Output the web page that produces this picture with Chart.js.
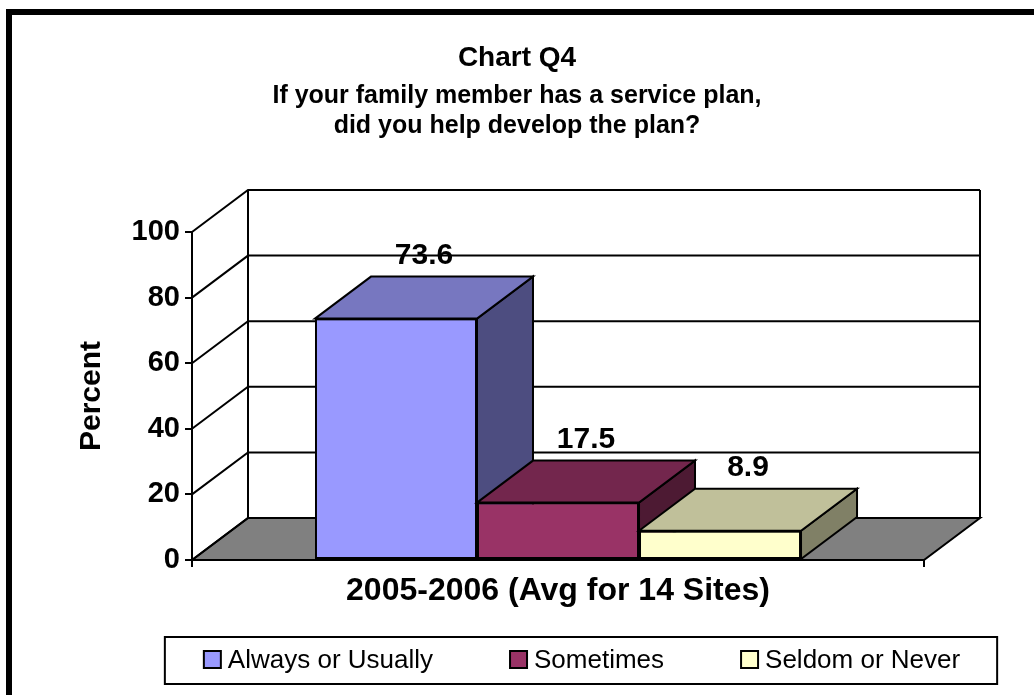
<!DOCTYPE html>
<html>
<head>
<meta charset="utf-8">
<title>Chart Q4</title>
<script src="https://cdn.jsdelivr.net/npm/chart.js@4.4.1/dist/chart.umd.min.js"></script>
<style>
  body { margin: 0; background: #fff; }
</style>
</head>
<body>
<canvas id="myChartQ4" width="1034" height="695"></canvas>
<script>
// data
var categories = ['2005-2006 (Avg for 14 Sites)'];
var seriesNames = ['Always or Usually', 'Sometimes', 'Seldom or Never'];
var alwaysUsually = [73.6];
var sometimes = [17.5];
var seldomNever = [8.9];
var yMin = 0, yMax = 100, yStep = 20;

// colours: front, top and side face of each series
var frontColors = ['#9999FF', '#993366', '#FFFFCC'];
var topColors = ['#7777C0', '#73264D', '#C0C09A'];
var sideColors = ['#4D4D80', '#4D1A33', '#808066'];

// depth of the fake 3d
var DX = 56, DY = 42;
var FONT = "'Liberation Sans', Arial, Helvetica, sans-serif";

Chart.defaults.color = '#000';
Chart.defaults.font.family = FONT;

function poly(ctx, pts, fill) {
    ctx.beginPath();
    ctx.moveTo(pts[0][0], pts[0][1]);
    for (var i = 1; i < pts.length; i++) ctx.lineTo(pts[i][0], pts[i][1]);
    ctx.closePath();
    ctx.fillStyle = fill;
    ctx.fill();
    ctx.stroke();
}

var depth3d = {
    id: 'depth3d',

    beforeDraw: function (chart) {
        var ctx = chart.ctx;
        ctx.save();
        ctx.fillStyle = '#fff';
        ctx.fillRect(0, 0, chart.width, chart.height);
        // frame (only left and top show)
        ctx.fillStyle = '#000';
        ctx.fillRect(6, 9, chart.width - 6, 6);
        ctx.fillRect(6, 9, 6, chart.height - 9);
        ctx.restore();
    },

    beforeDatasetsDraw: function (chart) {
        var ctx = chart.ctx, a = chart.chartArea, ys = chart.scales.y;
        ctx.save();
        ctx.lineWidth = 2;
        ctx.strokeStyle = '#000';
        ctx.lineJoin = 'miter';
        // floor
        poly(ctx, [[a.left, a.bottom], [a.left + DX, a.bottom - DY], [a.right + DX, a.bottom - DY], [a.right, a.bottom]], '#808080');
        // side wall + back wall with gridlines
        ctx.beginPath();
        ctx.moveTo(a.left + DX, a.bottom - DY);
        ctx.lineTo(a.left + DX, a.top - DY);
        ctx.moveTo(a.right + DX, a.bottom - DY);
        ctx.lineTo(a.right + DX, a.top - DY);
        ys.ticks.forEach(function (t) {
            var py = ys.getPixelForValue(t.value);
            ctx.moveTo(a.left, py);
            ctx.lineTo(a.left + DX, py - DY);
            ctx.lineTo(a.right + DX, py - DY);
        });
        ctx.stroke();
        ctx.restore();
    },

    afterDatasetsDraw: function (chart) {
        var ctx = chart.ctx;
        ctx.save();
        ctx.lineWidth = 2;
        ctx.strokeStyle = '#000';
        for (var i = 0; i < chart.data.datasets.length; i++) {
            var meta = chart.getDatasetMeta(i);
            meta.data.forEach(function (bar, j) {
                var p = bar.getProps(['x', 'y', 'base', 'width'], true);
                var l = p.x - p.width / 2, r = p.x + p.width / 2;
                poly(ctx, [[r, p.y], [r + DX, p.y - DY], [r + DX, p.base - DY], [r, p.base]], sideColors[i]);
                poly(ctx, [[l, p.y], [l + DX, p.y - DY], [r + DX, p.y - DY], [r, p.y]], topColors[i]);
                bar.draw(ctx);
                ctx.save();
                ctx.font = 'bold 30px ' + FONT;
                ctx.fillStyle = '#000';
                ctx.textAlign = 'center';
                ctx.textBaseline = 'alphabetic';
                ctx.fillText(chart.data.datasets[i].data[j].toFixed(1), p.x + DX / 2, p.y - DY - 13);
                ctx.restore();
            });
        }
        ctx.restore();
    },

    afterDraw: function (chart) {
        // legend in a box under the axis
        var ctx = chart.ctx;
        var ds = chart.data.datasets;
        var box = 17, gap = 77;
        ctx.save();
        ctx.font = '26px ' + FONT;
        var widths = ds.map(function (d) { return box + 7 + ctx.measureText(d.label).width; });
        var total = widths.reduce(function (s, w) { return s + w; }, 0) + gap * (ds.length - 1);
        var x = 582 - total / 2;
        ctx.lineWidth = 2;
        ctx.strokeStyle = '#000';
        ctx.strokeRect(x - 39, 637, total + 39 + 37, 47);
        ctx.textBaseline = 'middle';
        ctx.textAlign = 'left';
        ds.forEach(function (d, i) {
            ctx.fillStyle = d.backgroundColor;
            ctx.fillRect(x, 651, box, box);
            ctx.strokeRect(x, 651, box, box);
            ctx.fillStyle = '#000';
            ctx.fillText(d.label, x + box + 7, 661);
            x += widths[i] + gap;
        });
        ctx.restore();
    }
};

var ctxQ4 = document.getElementById('myChartQ4').getContext('2d');
var chart = new Chart(ctxQ4, {
    type: 'bar',
    data: {
        labels: categories,
        datasets: [{
            label: seriesNames[0],
            data: alwaysUsually,
            backgroundColor: frontColors[0]
        }, {
            label: seriesNames[1],
            data: sometimes,
            backgroundColor: frontColors[1]
        }, {
            label: seriesNames[2],
            data: seldomNever,
            backgroundColor: frontColors[2]
        }]
    },
    options: {
        responsive: false,
        animation: false,
        layout: { padding: 0 },
        datasets: {
            bar: {
                borderColor: '#000',
                borderWidth: 2,
                borderSkipped: false,
                categoryPercentage: 0.664,
                barPercentage: 1
            }
        },
        plugins: {
            legend: { display: false },
            tooltip: { enabled: false },
            title: {
                display: true,
                text: 'Chart Q4',
                font: { size: 28, weight: 'bold' },
                padding: { top: 41, bottom: 4 }
            },
            subtitle: {
                display: true,
                text: ['If your family member has a service plan,', 'did you help develop the plan?'],
                color: '#000',
                font: { size: 25, weight: 'bold', lineHeight: 1.2 },
                padding: { top: 3, bottom: 90.4 }
            }
        },
        scales: {
            x: {
                offset: true,
                grid: { offset: true, drawOnChartArea: false, drawTicks: true, tickLength: 7, color: '#000', lineWidth: 2 },
                border: { display: true, color: '#000', width: 2 },
                ticks: { font: { size: 32, weight: 'bold' }, padding: 5, maxRotation: 0 },
                afterFit: function (scale) { scale.height = 135; }
            },
            y: {
                min: yMin,
                max: yMax,
                ticks: { stepSize: yStep, font: { size: 29, weight: 'bold' }, padding: 5 },
                grid: { drawOnChartArea: false, drawTicks: true, tickLength: 7, color: '#000', lineWidth: 2 },
                border: { display: true, color: '#000', width: 2 },
                title: {
                    display: true,
                    text: 'Percent',
                    font: { size: 30, weight: 'bold' },
                    padding: { top: 74, bottom: 0 }
                },
                afterFit: function (scale) { scale.width = 192; }
            },
            // empty room on the right for the 3d depth
            yRight: {
                position: 'right',
                grid: { display: false },
                border: { display: false },
                ticks: { display: false },
                afterFit: function (scale) { scale.width = 110; }
            }
        }
    },
    plugins: [depth3d]
});
</script>
</body>
</html>
